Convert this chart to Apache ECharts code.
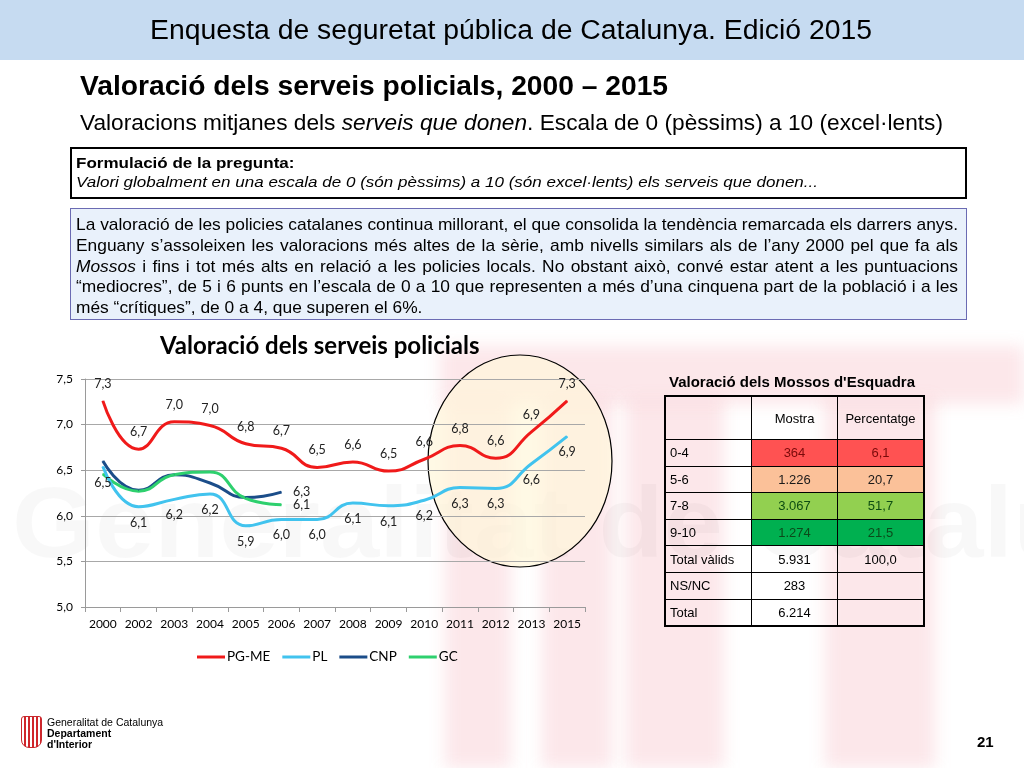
<!DOCTYPE html>
<html><head><meta charset="utf-8">
<script src="https://cdn.jsdelivr.net/npm/echarts@6/dist/echarts.min.js"></script>
<style>
html,body{margin:0;padding:0;width:1024px;height:768px;overflow:hidden;background:#fff;font-family:"Liberation Sans",Arial,sans-serif;}
#chart{position:absolute;left:0;top:0;width:1024px;height:768px;z-index:2;}
.t{position:absolute;white-space:nowrap;transform-origin:0 0;z-index:3;color:#000;line-height:1;}
.stripe{position:absolute;background:rgba(236,110,128,0.17);filter:blur(8px);z-index:0;}
#wm{position:absolute;white-space:nowrap;transform-origin:0 0;z-index:0;color:rgba(0,0,0,0.028);font-weight:bold;line-height:1;}
#hdr{position:absolute;left:0;top:0;width:1024px;height:60px;background:#c6dbf1;z-index:1;}
.box{position:absolute;z-index:2;box-sizing:border-box;}
#tbl{position:absolute;left:665px;top:396px;border-collapse:collapse;z-index:3;font-family:"Liberation Sans",Arial,sans-serif;font-size:13px;outline:1.5px solid #000;}
#tbl td{border:1px solid #000;padding:0;height:25.6px;width:85px;text-align:center;}
#tbl td.lab{text-align:left;padding-left:4px;width:81px;}
#tbl tr.head td{height:42px;}
#logo{position:absolute;left:21px;top:716px;width:19px;height:30px;border:1px solid #c8282d;border-radius:3px 3px 8px 8px;
  background:repeating-linear-gradient(90deg,#fff 0 2px,#d0262b 2px 4px);z-index:3;}
</style></head>
<body>
<div id="hdr"></div>
<div class="stripe" style="left:440px;top:346px;width:584px;height:58px;"></div>
<div class="stripe" style="left:445px;top:400px;width:66px;height:368px;"></div>
<div class="stripe" style="left:542px;top:400px;width:70px;height:368px;"></div>
<div class="stripe" style="left:626px;top:400px;width:98px;height:368px;"></div>
<div class="stripe" style="left:825px;top:400px;width:110px;height:368px;"></div>
<div class="box" style="left:70px;top:147px;width:897px;height:52px;border:2px solid #000;background:#fff;"></div>
<div class="box" style="left:70px;top:208px;width:897px;height:112px;border:1.5px solid #6b6bb3;background:#e9f1fb;"></div>
<div id="logo"></div>
<div id="chart"></div>
<script>
// ---- data ----
const years = ['2000','2002','2003','2004','2005','2006','2007','2008','2009','2010','2011','2012','2013','2015'];
const seriesNames = ['PG-ME','PL','CNP','GC'];
const pgme = [7.26,6.73,7.03,6.99,6.79,6.74,6.53,6.59,6.49,6.62,6.77,6.63,6.92,7.26];
const pl   = [6.54,6.10,6.18,6.24,5.89,5.96,5.96,6.14,6.11,6.17,6.31,6.30,6.57,6.87];
const cnp  = [6.60,6.28,6.45,6.36,6.20,6.26];
const gc   = [6.46,6.27,6.45,6.48,6.19,6.12];

const tblRows   = ['0-4','5-6','7-8','9-10','Total vàlids','NS/NC','Total'];
const tblMostra = ['364','1.226','3.067','1.274','5.931','283','6.214'];
const tblPct    = ['6,1','20,7','51,7','21,5','100,0','',''];
const tblHead   = ['','Mostra','Percentatge'];

// ---- styles (not data) ----
const rowFill = ['#ff5252','#fbc199','#92d050','#00b050',null,null,null];
const rowText = ['#7a0a0a','#1a1a1a','#0d4d12','#0b4a1a','#000','#000','#000'];
const colors = ['#f01a1a','#41c3ee','#1b4d89','#2ed06e'];

function mk(html,x,yc,size,o){
  o=o||{};
  const d=document.createElement('div');
  d.className='t'; d.innerHTML=html;
  d.style.left=x+'px'; d.style.top=(yc-size*0.5)+'px'; d.style.fontSize=size+'px';
  if(o.bold) d.style.fontWeight='bold';
  if(o.italic) d.style.fontStyle='italic';
  document.body.appendChild(d); return d;
}
function w0(d){return d.getBoundingClientRect().width;}
function fit(d,w){const s=w/w0(d);d.style.transform='scaleX('+s+')';return s;}
function scl(d,s){d.style.transform='scaleX('+s+')';}
function just(d,w,s){const n=w0(d);const sp=(d.textContent.match(/ /g)||[]).length;
  d.style.wordSpacing=((w/s-n)/sp)+'px';d.style.transform='scaleX('+s+')';}

function layout(){
  const wm=document.createElement('div'); wm.id='wm'; wm.textContent='Generalitat de Catalunya';
  wm.style.left='12px'; wm.style.top='472px'; wm.style.fontSize='100px'; document.body.appendChild(wm);
  wm.style.transform='scaleX('+(1250/w0(wm))+')';

  fit(mk('Enquesta de seguretat pública de Catalunya. Edició 2015',150,30,27),722);
  fit(mk('Valoració dels serveis policials, 2000 – 2015',80,86,27,{bold:true}),588);
  fit(mk('Valoracions mitjanes dels <i>serveis que donen</i>. Escala de 0 (pèssims) a 10 (excel·lents)',80,124,21.5),863);
  const it=mk('Valori globalment en una escala de 0 (són pèssims) a 10 (són excel·lents) els serveis que donen...',76,182,15.5,{italic:true});
  const s1=fit(it,742);
  scl(mk('Formulació de la pregunta:',76,163,15.5,{bold:true}),s1);
  const L=[
   'La valoració de les policies catalanes continua millorant, el que consolida la tendència remarcada els darrers anys.',
   'Enguany s’assoleixen les valoracions més altes de la sèrie, amb nivells similars als de l’any 2000 pel que fa als',
   '<i>Mossos</i> i fins i tot més alts en relació a les policies locals. No obstant això, convé estar atent a les puntuacions',
   '“mediocres”, de 5 i 6 punts en l’escala de 0 a 10 que representen a més d’una cinquena part de la població i a les',
   'més “crítiques”, de 0 a 4, que superen el 6%.'];
  const ys=[224,245,266,286,307];
  const first=mk(L[0],76,ys[0],17);
  const s=fit(first,882);
  for(let i=1;i<4;i++) just(mk(L[i],76,ys[i],17),882,s);
  scl(mk(L[4],76,ys[4],17),s);
  fit(mk("Valoració dels Mossos d'Esquadra",669,382,14,{bold:true}),246);
  const t=document.createElement('table'); t.id='tbl';
  let h='<tr class="head">'+tblHead.map((c,i)=>'<td'+(i===0?' class="lab"':'')+'>'+c+'</td>').join('')+'</tr>';
  tblRows.forEach((r,i)=>{
    const bg=rowFill[i]?'background:'+rowFill[i]+';':'';
    h+='<tr><td class="lab">'+r+'</td><td style="'+bg+'color:'+rowText[i]+'">'+tblMostra[i]+'</td><td style="'+bg+'color:'+rowText[i]+'">'+tblPct[i]+'</td></tr>';
  });
  t.innerHTML=h; document.body.appendChild(t);
  mk('Generalitat de Catalunya',47,722,10.5);
  mk('Departament',47,733,10.5,{bold:true});
  mk("d'Interior",47,744,10.5,{bold:true});
  mk('21',977,741,15,{bold:true});
}

function fmt(v){return v.toFixed(1).replace('.',',');}

function drawChart(){
  const ch=echarts.init(document.getElementById('chart'),null,{renderer:'canvas'});
  const F='Lato';
  const lbl=(pos,dist)=>({show:true,position:pos,distance:dist,fontFamily:F,fontSize:12.5,color:'#222',formatter:p=>fmt(p.value)});
  const lastLabel=(arr)=>arr.map((v,i)=>i===arr.length-1?{value:v,label:lbl('right',11)}:v);
  const mkSeries=(name,data,ci,z,label)=>({name,type:'line',data,smooth:0.5,symbol:'circle',symbolSize:1,showSymbol:true,
    lineStyle:{width:3,color:colors[ci]},itemStyle:{color:colors[ci]},z,label});
  const option={
    backgroundColor:'transparent',
    animation:false,
    title:{text:'Valoració dels serveis policials',left:160,top:334,padding:0,textStyle:{fontFamily:F,fontSize:24,fontWeight:'bold',color:'#000'}},
    grid:{left:85,right:439,top:379,bottom:161,containLabel:false},
    legend:{data:seriesNames,left:197,top:650,padding:0,icon:'rect',itemWidth:28,itemHeight:3,itemGap:12,
      textStyle:{fontFamily:F,fontSize:13.5,color:'#000',padding:[0,0,0,-3]}},
    xAxis:{type:'category',data:years,boundaryGap:true,
      axisLine:{lineStyle:{color:'#9a9a9a'}},
      axisTick:{show:true,length:5,lineStyle:{color:'#9a9a9a'}},
      axisLabel:{fontFamily:F,fontSize:12,color:'#000',margin:11,interval:0}},
    yAxis:{type:'value',min:5,max:7.5,interval:0.5,
      axisLine:{show:true,lineStyle:{color:'#9a9a9a'}},
      axisTick:{show:true,length:4,lineStyle:{color:'#9a9a9a'}},
      splitLine:{lineStyle:{color:'#a8a8a8'}},
      axisLabel:{fontFamily:F,fontSize:12,color:'#000',margin:12,formatter:v=>fmt(v)}},
    graphic:[{type:'ellipse',shape:{cx:520,cy:461,rx:92,ry:106},z:-1,
      style:{fill:'rgba(255,246,218,0.7)',stroke:'#000',lineWidth:1.2}}],
    series:[
      mkSeries('PG-ME',pgme,0,5,lbl('top',10)),
      mkSeries('PL',pl,1,4,lbl('bottom',9)),
      mkSeries('CNP',lastLabel(cnp),2,3,{show:false}),
      mkSeries('GC',lastLabel(gc),3,3,{show:false})
    ]
  };
  ch.setOption(option);
}
(document.fonts&&document.fonts.ready?document.fonts.ready:Promise.resolve()).then(()=>{layout();drawChart();});
</script>
</body></html>
